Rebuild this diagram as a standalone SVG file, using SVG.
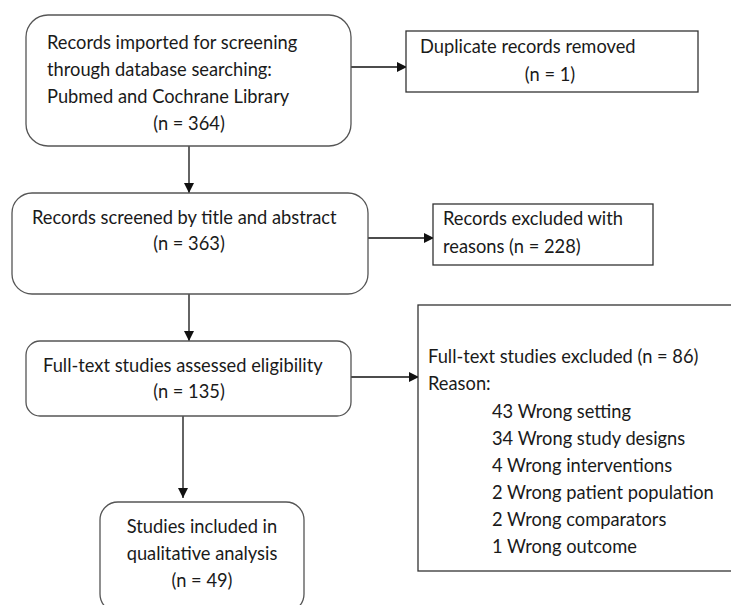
<svg xmlns="http://www.w3.org/2000/svg" width="731" height="605" viewBox="0 0 731 605">
<style>
.rbox{fill:#fff;stroke:#555;stroke-width:1.3}
.box{fill:#fff;stroke:#333;stroke-width:1.3}
.t{font-family:Lato,"Liberation Sans",sans-serif;font-size:18.3px;fill:#1a1a1a}
.c{text-anchor:middle}
.ln{stroke:#111;stroke-width:1.3;fill:none;marker-end:url(#ah)}
</style>
<defs>
<marker id="ah" viewBox="0 0 10 10" refX="10" refY="5" markerWidth="10" markerHeight="10" markerUnits="userSpaceOnUse" orient="auto">
<path d="M0,0 L10,5 L0,10 z" fill="#111"/>
</marker>
</defs>
<rect width="731" height="605" fill="#fff"/>
<g id="connectors">
<line class="ln" x1="351" y1="67" x2="407" y2="67"/>
<line class="ln" x1="189" y1="146" x2="189" y2="193"/>
<line class="ln" x1="368" y1="238" x2="434" y2="238"/>
<line class="ln" x1="189" y1="294" x2="189" y2="341"/>
<line class="ln" x1="351" y1="377" x2="419" y2="377"/>
<line class="ln" x1="183" y1="416" x2="183" y2="498"/>
</g>
<g id="n1">
<rect class="rbox" x="26" y="15" width="325" height="131" rx="22"/>
<text class="t" x="47" y="49">Records imported for screening</text>
<text class="t" x="47" y="76">through database searching:</text>
<text class="t" x="47" y="103">Pubmed and Cochrane Library</text>
<text class="t c" x="189" y="130">(n = 364)</text>
</g>
<g id="n2">
<rect class="box" x="406" y="31" width="292" height="61"/>
<text class="t" x="420" y="53">Duplicate records removed</text>
<text class="t c" x="550" y="81">(n = 1)</text>
</g>
<g id="n3">
<rect class="rbox" x="12" y="193" width="356" height="101" rx="20"/>
<text class="t" x="32" y="224">Records screened by title and abstract</text>
<text class="t c" x="189" y="250">(n = 363)</text>
</g>
<g id="n4">
<rect class="box" x="433" y="204" width="220" height="61"/>
<text class="t" x="443" y="225">Records excluded with</text>
<text class="t" x="443" y="253">reasons (n = 228)</text>
</g>
<g id="n5">
<rect class="rbox" x="26" y="341" width="325" height="75" rx="14"/>
<text class="t" x="43" y="372">Full-text studies assessed eligibility</text>
<text class="t c" x="189" y="398">(n = 135)</text>
</g>
<g id="n6">
<rect class="box" x="418" y="305" width="330" height="266"/>
<text class="t" x="428" y="363">Full-text studies excluded (n = 86)</text>
<text class="t" x="428" y="390">Reason:</text>
<text class="t" x="492" y="418">43 Wrong setting</text>
<text class="t" x="492" y="445">34 Wrong study designs</text>
<text class="t" x="492" y="472">4 Wrong interventions</text>
<text class="t" x="492" y="499">2 Wrong patient population</text>
<text class="t" x="492" y="526">2 Wrong comparators</text>
<text class="t" x="492" y="553">1 Wrong outcome</text>
</g>
<g id="n7">
<rect class="rbox" x="100" y="502" width="204" height="110" rx="18"/>
<text class="t c" x="202" y="533">Studies included in</text>
<text class="t c" x="202" y="560">qualitative analysis</text>
<text class="t c" x="202" y="587">(n = 49)</text>
</g>
</svg>
